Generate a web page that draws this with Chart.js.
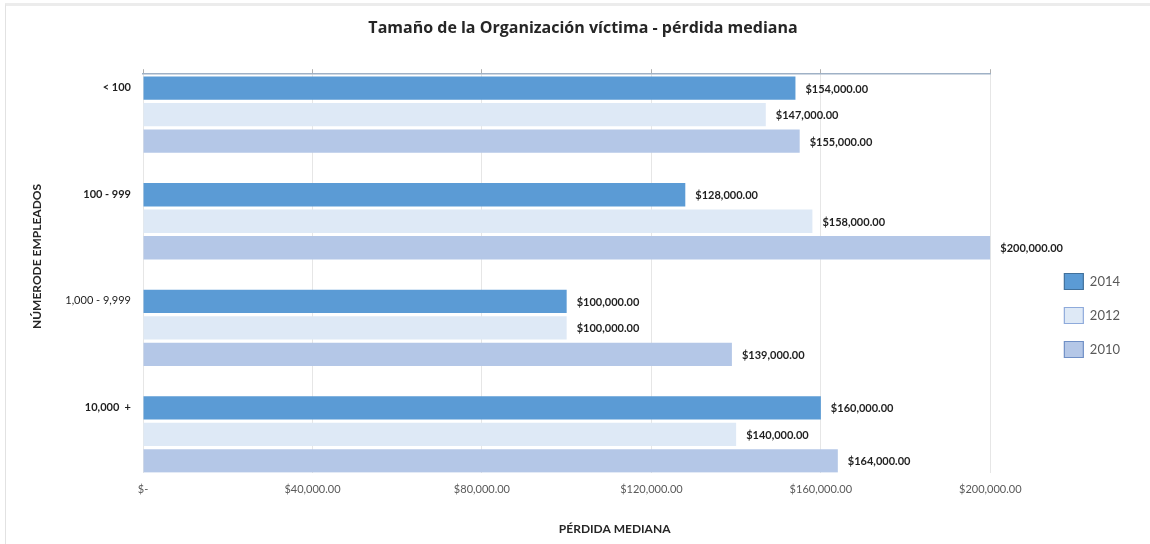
<!DOCTYPE html>
<html><head><meta charset="utf-8">
<script src="https://cdn.jsdelivr.net/npm/chart.js@4.4.0/dist/chart.umd.min.js"></script>
<style>
html,body{margin:0;padding:0;background:#fff;}
#wrap{position:relative;width:1150px;height:544px;}
#frame{position:absolute;left:5px;top:3px;right:0;bottom:0;border-top:3px solid #ececec;border-left:1px solid #e2e2e2;pointer-events:none;}
canvas{display:block;}
</style></head><body>
<div id="wrap"><canvas id="c" width="1150" height="544"></canvas><div id="frame"></div></div>
<script>
const chartTitle = 'Tamaño de la Organización víctima - pérdida mediana';
const xAxisTitle = 'PÉRDIDA MEDIANA';
const yAxisTitle = 'NÚMERODE EMPLEADOS';
const categories = ['< 100', '100 - 999', '1,000 - 9,999', '10,000  +'];
const seriesNames = ['2014', '2012', '2010'];
const values2014 = [154000, 128000, 100000, 160000];
const values2012 = [147000, 158000, 100000, 140000];
const values2010 = [155000, 200000, 139000, 164000];
const xTickValues = [0, 40000, 80000, 120000, 160000, 200000];
const barColors = ['#5b9bd5', '#dee9f6', '#b4c7e7'];
const legendBorders = ['#41719c', '#8eaadb', '#6f8fc6'];

const FONT = 'Lato, "Open Sans", sans-serif';

function money(v) {
  if (v === 0) return '$-';
  const s = Math.round(v).toString().replace(/\B(?=(\d{3})+(?!\d))/g, ',');
  return '$' + s + '.00';
}

const seriesValues = [values2014, values2012, values2010];
const datasets = seriesNames.map((name, si) => ({
  label: name,
  data: seriesValues[si].map((v, i) => ({ x: v, y: i })),
  backgroundColor: barColors[si],
  borderWidth: 0,
  categoryPercentage: 0.746,
  barPercentage: 0.88
}));

const valueLabels = {
  id: 'valueLabels',
  afterDatasetsDraw(chart) {
    const ctx = chart.ctx;
    ctx.save();
    ctx.font = 'bold 11px ' + FONT;
    ctx.fillStyle = '#1f1f1f';
    ctx.textBaseline = 'middle';
    ctx.textAlign = 'left';
    chart.data.datasets.forEach((ds, di) => {
      chart.getDatasetMeta(di).data.forEach((el, i) => {
        ctx.fillText(money(ds.data[i].x), el.x + 10, el.y + 1);
      });
    });
    ctx.restore();
  }
};

const axisTitles = {
  id: 'axisTitles',
  afterDraw(chart) {
    const ctx = chart.ctx, a = chart.chartArea;
    ctx.save();
    ctx.font = 'bold 12px ' + FONT;
    ctx.fillStyle = '#262626';
    ctx.textAlign = 'center';
    ctx.textBaseline = 'middle';
    ctx.fillText(xAxisTitle, (a.left + a.right) / 2 + 48, a.bottom + 56);
    ctx.translate(a.left - 106, (a.top + a.bottom) / 2 - 17);
    ctx.rotate(-Math.PI / 2);
    ctx.fillText(yAxisTitle, 0, 0);
    ctx.restore();
  }
};

new Chart(document.getElementById('c'), {
  type: 'bar',
  data: { datasets },
  plugins: [valueLabels, axisTitles],
  options: {
    responsive: false,
    animation: false,
    indexAxis: 'y',
    layout: { padding: { left: 36, right: 20, top: 0, bottom: 38 } },
    plugins: {
      tooltip: { enabled: false },
      title: {
        display: true,
        text: chartTitle,
        color: '#262626',
        font: { family: '"Open Sans", Lato, sans-serif', size: 16, weight: 'bold' },
        padding: { top: 19, bottom: 31 }
      },
      legend: {
        position: 'right',
        title: { display: true, text: ' ', font: { size: 10 }, padding: { top: 113, bottom: 0 } },
        labels: {
          color: '#595959',
          font: { family: FONT, size: 13 },
          boxWidth: 19,
          boxHeight: 16,
          padding: 18,
          generateLabels: () => seriesNames.map((n, i) => ({
            text: n,
            fillStyle: barColors[i],
            strokeStyle: legendBorders[i],
            lineWidth: 1.2,
            fontColor: '#595959',
            datasetIndex: i,
            hidden: false
          }))
        }
      }
    },
    scales: {
      x: {
        type: 'linear',
        position: 'bottom',
        min: 0,
        max: 200000,
        afterBuildTicks: s => { s.ticks = xTickValues.map(v => ({ value: v })); },
        ticks: {
          callback: v => money(v),
          color: '#595959',
          font: { family: FONT, size: 11 },
          padding: 10,
          maxRotation: 0
        },
        grid: { color: '#e6e6e6', drawTicks: false },
        border: { display: false }
      },
      x2: {
        type: 'linear',
        position: 'top',
        min: 0,
        max: 200000,
        afterBuildTicks: s => { s.ticks = xTickValues.map(v => ({ value: v })); },
        ticks: { display: false },
        grid: { drawOnChartArea: false, drawTicks: true, tickLength: 5, color: '#b0b0b0' },
        border: { display: true, color: '#9fb1c6', width: 1.5 }
      },
      y: {
        type: 'linear',
        reverse: true,
        offset: false,
        bounds: 'data',
        min: -0.38,
        max: 3.36,
        afterBuildTicks: s => { s.ticks = categories.map((c, i) => ({ value: i })); },
        afterFit: s => { s.width = 107; },
        ticks: {
          callback: v => categories[v],
          color: '#1f1f1f',
          labelOffset: -27,
          padding: 12,
          font: ctx => ({ family: FONT, size: 11, weight: ctx.index === 2 ? 'normal' : 'bold' })
        },
        grid: { display: false, drawTicks: false },
        border: { display: false }
      },
      y2: {
        type: 'linear',
        position: 'right',
        display: true,
        offset: false,
        afterFit: s => { s.width = 56; },
        ticks: { display: false },
        grid: { display: false, drawTicks: false },
        border: { display: false }
      }
    }
  }
});
</script>
</body></html>
